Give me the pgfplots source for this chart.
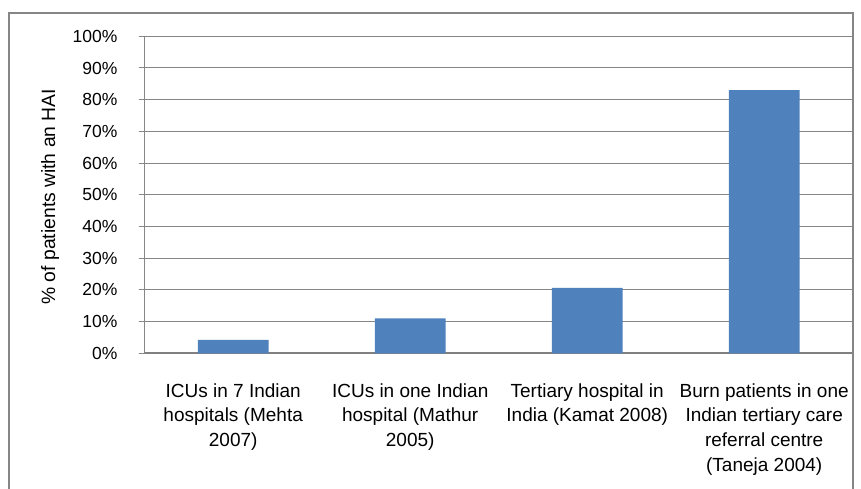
\documentclass[border=0pt]{standalone}
\usepackage{fontspec}
\setmainfont{Liberation Sans}
\usepackage{pgfplots}
\pgfplotsset{compat=1.18}
\definecolor{barblue}{HTML}{4F81BD}
\definecolor{gridgray}{HTML}{868686}
\begin{document}
\begin{tikzpicture}
\begin{axis}[
  at={(144.7bp,135.7bp)}, anchor=south west,
  scale only axis, width=708bp, height=317bp,
  ybar, bar width=70.6bp,
  xmin=-0.5, xmax=3.5, ymin=0, ymax=100,
  xtick={0,1,2,3},
  xticklabels={{ICUs in 7 Indian\\hospitals (Mehta\\2007)},{ICUs in one Indian\\hospital (Mathur\\2005)},{Tertiary hospital in\\India (Kamat 2008)},{Burn patients in one\\Indian tertiary care\\referral centre\\(Taneja 2004)}},
  ytick={0,10,...,100},
  yticklabels={0\%,10\%,20\%,30\%,40\%,50\%,60\%,70\%,80\%,90\%,100\%},
  /pgf/number format/assume math mode=true,
  xticklabel style={align=center, inner sep=0pt, anchor=north, yshift=-24bp, font=\fontsize{19bp}{24.7bp}\selectfont},
  yticklabel style={inner sep=0pt, anchor=east, xshift=-21bp, font=\fontsize{17.5bp}{21bp}\selectfont},
  ylabel={\% of patients with an HAI},
  every axis y label/.style={at={(axis description cs:-0.1335,0.494)}, anchor=center, rotate=90, font=\fontsize{19.3bp}{23bp}\selectfont},
  ymajorgrids, major grid style={gridgray, line width=1bp},
  axis x line=bottom, axis y line=left, axis line style={-},
  x axis line style={color=gray, line width=1.6bp},
  y axis line style={color=gridgray, line width=1bp},
  tick align=outside, major tick length=6bp,
  xtick style={draw=none},
  ytick style={gridgray, line width=1bp},
]
\addplot[fill=barblue, draw=none] coordinates {(0,4.2) (1,11.0) (2,20.6) (3,83.0)};
\end{axis}
\draw[gridgray, line width=1.2bp] (9bp,-5bp) -- (9bp,476bp) -- (853bp,476bp) -- (853bp,-5bp);
\pgfresetboundingbox
\path[use as bounding box] (0bp,0bp) rectangle (861bp,489bp);
\end{tikzpicture}
\end{document}
